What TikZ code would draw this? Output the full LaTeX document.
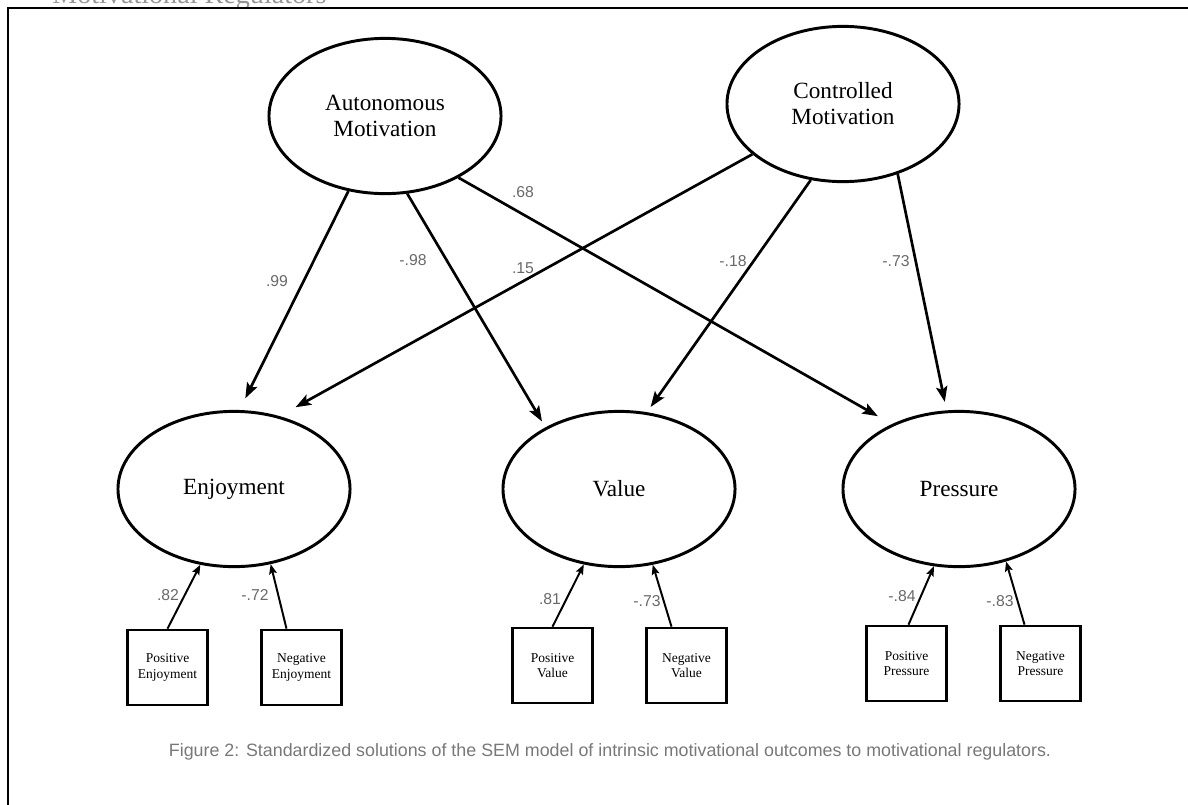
\documentclass[tikz,border=0pt]{standalone}
\usepackage{fontspec}
\setmainfont{Liberation Serif}
\newfontfamily\lsans{Liberation Sans}
\usetikzlibrary{shapes.geometric,arrows.meta}
\definecolor{coefgray}{RGB}{105,105,105}
\definecolor{capgray}{RGB}{120,120,120}
\definecolor{topgray}{RGB}{150,150,150}
\begin{document}
\begin{tikzpicture}[x=0.025cm,y=-0.025cm,
  latent/.style={ellipse, draw, line width=2.1pt, inner sep=0pt,
    minimum width=5.8cm, minimum height=3.88cm, align=center,
    font=\fontsize{16.5}{18.5}\selectfont},
  indicator/.style={rectangle, draw, line width=1.9pt, inner sep=0pt,
    minimum width=2cm, minimum height=1.875cm, align=center,
    font=\fontsize{9.6}{10.8}\selectfont},
  regpath/.style={line width=1.9pt, -{Stealth[length=11pt,width=8pt,inset=2.2pt]}},
  loadarrow/.style={line width=1.4pt, -{Stealth[length=7pt,width=5.5pt,inset=1.3pt]}},
  coef/.style={font=\lsans\fontsize{11.2}{13}\selectfont, text=coefgray, inner sep=0pt},
]
\useasboundingbox (0,0) rectangle (1188,804);

% cropped heading above the frame (cut off as in the reference)
\node[anchor=base west, inner sep=0pt, text=topgray, font=\fontsize{20}{22}\selectfont] (toptext) at (52,3) {Motivational Regulators};

% frame
\draw[line width=1.4pt] (8,830) -- (8,8) -- (1210,8);

% latent variables
\node[latent] (auto) at (385,116) {Autonomous\\Motivation};
\node[latent] (ctrl) at (843,104) {Controlled\\Motivation};
\node[latent] (enj) at (234,489) {Enjoyment};
\node[latent] (val) at (619,489) {Value};
\node[latent] (pres) at (959,489) {Pressure};

% indicators
\node[indicator] (pe) at (167.5,667.5) {Positive\\Enjoyment};
\node[indicator] (ne) at (301.5,667.5) {Negative\\Enjoyment};
\node[indicator] (pv) at (552.5,665.5) {Positive\\Value};
\node[indicator] (nv) at (686.5,665.5) {Negative\\Value};
\node[indicator] (pp) at (906.5,663.5) {Positive\\Pressure};
\node[indicator] (np) at (1040.5,663.5) {Negative\\Pressure};

% structural paths
\draw[regpath, shorten >=9.2pt] (auto.-116.3) -- (enj.86);
\draw[regpath, shorten >=4.8pt] (auto.-74.9) -- (val.140);
\draw[regpath, shorten >=11.4pt] (auto.-40.3) -- (pres.136);
\draw[regpath, shorten >=13pt] (ctrl.-151.7) -- (enj.58);
\draw[regpath, shorten >=4.5pt] (ctrl.-113.1) -- (val.70);
\draw[regpath, shorten >=6.1pt] (ctrl.-52.5) -- (pres.99);

% loadings
\draw[loadarrow] (pe.north) -- (enj.-114.8);
\draw[loadarrow] ([xshift=-0.375cm]ne.north) -- (enj.-64.9);
\draw[loadarrow] (pv.north) -- (val.-115);
\draw[loadarrow] ([xshift=-0.375cm]nv.north) -- (val.-66.1);
\draw[loadarrow] ([xshift=0.05cm]pp.north) -- (pres.-108.4);
\draw[loadarrow] ([xshift=-0.4cm]np.north) -- (pres.-57);

% coefficients
\node[coef] (c68) at (523,192) {.68};
\node[coef] (c99) at (277,281) {.99};
\node[coef] (c98) at (413,260) {-.98};
\node[coef] (c15) at (523,268) {.15};
\node[coef] (c18) at (733,261) {-.18};
\node[coef] (c73a) at (896,261) {-.73};
\node[coef] (c82) at (168,595) {.82};
\node[coef] (c72) at (255,595) {-.72};
\node[coef] (c81) at (550,599) {.81};
\node[coef] (c73b) at (647,601) {-.73};
\node[coef] (c84) at (902,596) {-.84};
\node[coef] (c83) at (1000,601) {-.83};

% caption
\node[inner sep=0pt, text=capgray, font=\lsans\fontsize{12.7}{15}\selectfont] (caption) at (610,752)
  {Figure 2: Standardized solutions of the SEM model of intrinsic motivational outcomes to motivational regulators.};
\end{tikzpicture}
\end{document}
